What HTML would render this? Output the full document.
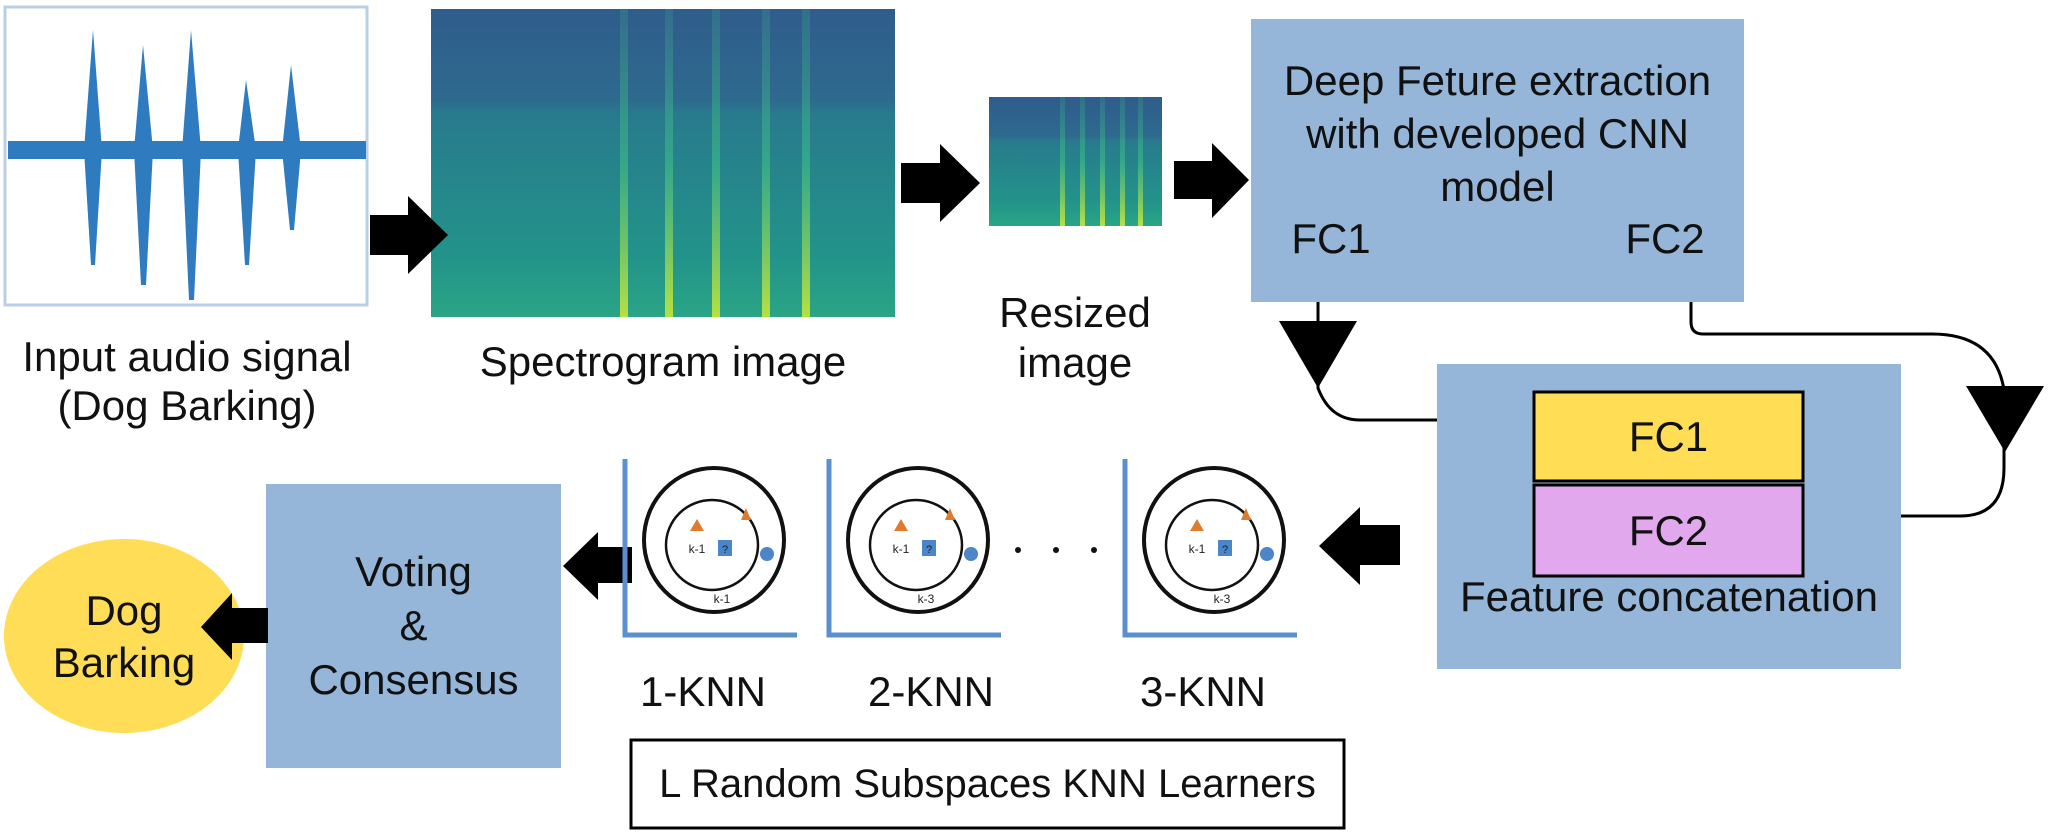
<!DOCTYPE html>
<html><head><meta charset="utf-8"><style>
body{margin:0;background:#fff;width:2048px;height:835px;overflow:hidden;position:relative;font-family:"Liberation Sans",sans-serif;}
.t{position:absolute;color:#111;text-align:center;white-space:nowrap;font-size:42px;line-height:1}
</style></head><body>
<svg width="2048" height="835" style="position:absolute;left:0;top:0">
<defs>
<linearGradient id="sp" x1="0" y1="0" x2="0" y2="1">
<stop offset="0" stop-color="#2f5c8c"/><stop offset="0.3" stop-color="#2e6a8e"/><stop offset="0.34" stop-color="#287a8c"/><stop offset="0.8" stop-color="#23938a"/><stop offset="1" stop-color="#2aa585"/></linearGradient>
<linearGradient id="st" x1="0" y1="0" x2="0" y2="1">
<stop offset="0" stop-color="#3a9a8a" stop-opacity="0.3"/><stop offset="0.5" stop-color="#3ab68a" stop-opacity="0.7"/><stop offset="1" stop-color="#b8e040"/></linearGradient>
</defs>
<rect x="5" y="7" width="362" height="298" fill="#fff" stroke="#b9cfe6" stroke-width="3"/>
<path d="M8 150 L366 150" stroke="#2e7bc0" stroke-width="18"/>
<g fill="#2e7bc0">
<polygon points="84,150 93,30 102,150 95,265 91,265"/>
<polygon points="134,150 143,45 153,150 146,285 141,285"/>
<polygon points="182,150 191,30 201,150 194,300 189,300"/>
<polygon points="238,150 246,80 256,150 249,265 245,265"/>
<polygon points="282,150 291,65 301,150 294,230 290,230"/>
</g>
<rect x="431" y="9" width="464" height="308" fill="url(#sp)"/>
<g fill="url(#st)">
<rect x="620" y="9" width="8" height="308"/><rect x="665" y="9" width="8" height="308"/><rect x="712" y="9" width="8" height="308"/><rect x="762" y="9" width="8" height="308"/><rect x="802" y="9" width="8" height="308"/>
</g>
<rect x="989" y="97" width="173" height="129" fill="url(#sp)"/>
<g fill="url(#st)"><rect x="1060" y="97" width="5" height="129"/><rect x="1080" y="97" width="5" height="129"/><rect x="1100" y="97" width="5" height="129"/><rect x="1120" y="97" width="5" height="129"/><rect x="1138" y="97" width="5" height="129"/></g>
<g fill="#000">
<polygon points="370,215 408,215 408,196 448,235 408,274 408,255 370,255"/>
<polygon points="901,163 940,163 940,144 980,183 940,222 940,203 901,203"/>
<polygon points="1174,161 1212,161 1212,143 1249,180 1212,218 1212,199 1174,199"/>
<polygon points="1400,525 1360,525 1360,507 1319,546 1360,585 1360,565 1400,565"/>
<polygon points="632,547 598,547 598,532 563,566 598,600 598,583 632,583"/>
<polygon points="268,608 232,608 232,593 201,627 232,660 232,643 268,643"/>
</g>
<rect x="1251" y="19" width="493" height="283" fill="#95b6d8"/>
<rect x="1437" y="364" width="464" height="305" fill="#95b6d8"/>
<rect x="1534" y="392" width="269" height="89" fill="#ffdd55" stroke="#000" stroke-width="3"/>
<rect x="1534" y="485" width="269" height="91" fill="#e1a8ee" stroke="#000" stroke-width="3"/>
<rect x="266" y="484" width="295" height="284" fill="#95b6d8"/>
<ellipse cx="124" cy="636" rx="120" ry="97" fill="#ffdd57"/>
<polygon points="268,608 232,608 232,593 201,627 232,660 232,643 268,643" fill="#000"/>
<rect x="631" y="740" width="713" height="88" fill="#fff" stroke="#000" stroke-width="3"/>
<g fill="none" stroke="#000" stroke-width="3">
<path d="M1318 302 V388 Q1330 420 1360 420 H1437"/>
<path d="M1691 302 V322 Q1691 334 1703 334 H1932 Q1995 334 2004 390 V468 Q2004 516 1960 516 H1901"/>
</g>
<polygon points="1279,321 1357,321 1318,388" fill="#000"/>
<polygon points="1966,386 2044,386 2005,452" fill="#000"/>
<g id="p">
<path d="M625 459 V635 H797" fill="none" stroke="#5a8fd0" stroke-width="5"/>
<ellipse cx="714" cy="540" rx="70" ry="72" fill="none" stroke="#111" stroke-width="4"/>
<ellipse cx="712" cy="545" rx="46" ry="45" fill="none" stroke="#111" stroke-width="2.5"/>
<polygon points="746,508 741,520 751,520" fill="#e07a2c"/>
<polygon points="697,519 690,531 704,531" fill="#e07a2c"/>
<rect x="718" y="540" width="14" height="16" fill="#4a86c8"/>
<text x="725" y="553" font-size="11" fill="#123" text-anchor="middle" font-family="Liberation Sans">?</text>
<text x="697" y="553" font-size="12" fill="#222" text-anchor="middle" font-family="Liberation Sans">k-1</text>
<circle cx="767" cy="554" r="7" fill="#4a86c8"/>
</g>
<text x="722" y="603" font-size="12" fill="#222" text-anchor="middle" font-family="Liberation Sans">k-1</text>
<use href="#p" x="204"/>
<text x="926" y="603" font-size="12" fill="#222" text-anchor="middle" font-family="Liberation Sans">k-3</text>
<use href="#p" x="500"/>
<text x="1222" y="603" font-size="12" fill="#222" text-anchor="middle" font-family="Liberation Sans">k-3</text>
<circle cx="1018" cy="550" r="3" fill="#111"/><circle cx="1056" cy="550" r="3" fill="#111"/><circle cx="1094" cy="550" r="3" fill="#111"/>
</svg>
<div class="t" style="left:7px;width:360px;top:336px">Input audio signal</div>
<div class="t" style="left:7px;width:360px;top:385px">(Dog Barking)</div>
<div class="t" style="left:431px;width:464px;top:341px">Spectrogram image</div>
<div class="t" style="left:975px;width:200px;top:292px">Resized</div>
<div class="t" style="left:975px;width:200px;top:342px">image</div>
<div class="t" style="left:1251px;width:493px;top:60px;font-size:42px">Deep Feture extraction</div>
<div class="t" style="left:1251px;width:493px;top:113px;font-size:42px">with developed CNN</div>
<div class="t" style="left:1251px;width:493px;top:166px;font-size:42px">model</div>
<div class="t" style="left:1271px;width:120px;top:218px;font-size:42px">FC1</div>
<div class="t" style="left:1605px;width:120px;top:218px;font-size:42px">FC2</div>
<div class="t" style="left:1534px;width:269px;top:416px">FC1</div>
<div class="t" style="left:1534px;width:269px;top:510px">FC2</div>
<div class="t" style="left:1437px;width:464px;top:576px">Feature concatenation</div>
<div class="t" style="left:266px;width:295px;top:551px">Voting</div>
<div class="t" style="left:266px;width:295px;top:605px">&amp;</div>
<div class="t" style="left:266px;width:295px;top:659px">Consensus</div>
<div class="t" style="left:4px;width:240px;top:590px">Dog</div>
<div class="t" style="left:4px;width:240px;top:642px">Barking</div>
<div class="t" style="left:613px;width:180px;top:671px">1-KNN</div>
<div class="t" style="left:841px;width:180px;top:671px">2-KNN</div>
<div class="t" style="left:1113px;width:180px;top:671px">3-KNN</div>
<div class="t" style="left:631px;width:713px;top:764px;font-size:40px">L Random Subspaces KNN Learners</div>
</body></html>
